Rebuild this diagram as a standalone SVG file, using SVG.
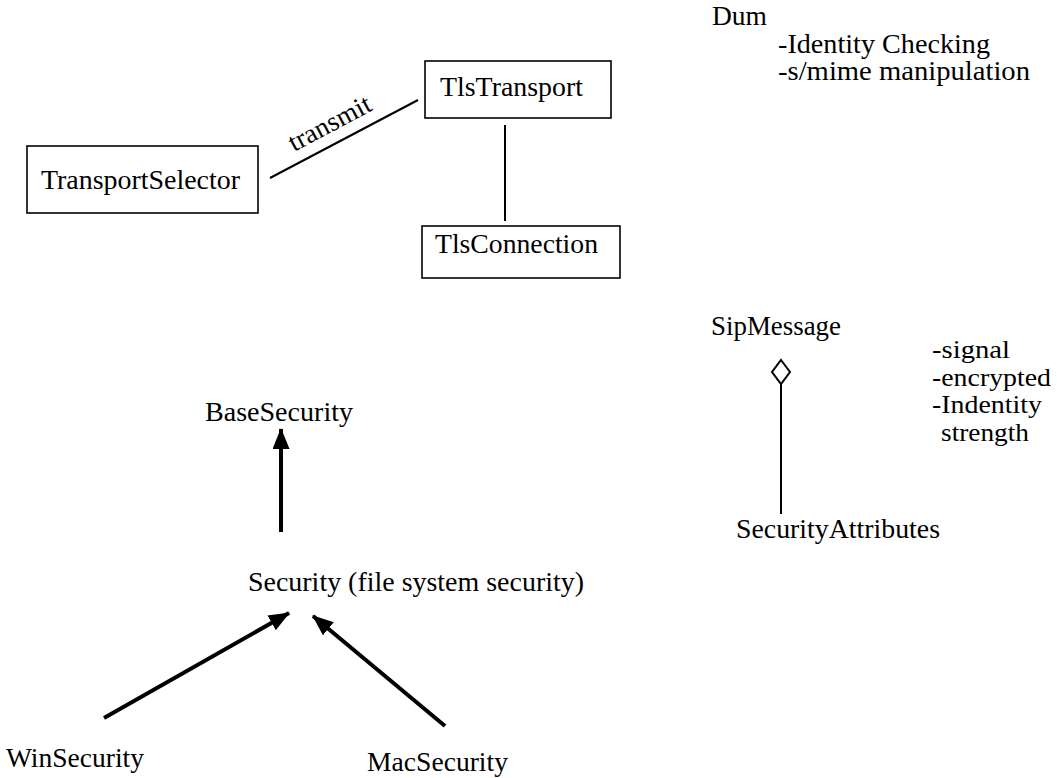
<svg xmlns="http://www.w3.org/2000/svg" width="1057" height="778" viewBox="0 0 1057 778">
<style>
.box { fill: #fff; stroke: #000; stroke-width: 1.6; }
.thin { stroke: #000; stroke-width: 2; fill: none; }
.thick { stroke: #000; stroke-width: 4; fill: none; }
</style>
<defs>
<marker id="tri" markerUnits="userSpaceOnUse" markerWidth="22" markerHeight="18" refX="20" refY="8.5" orient="auto">
<path d="M0,0 L21,8.5 L0,17 Z" fill="#000"/>
</marker>
</defs>
<rect width="1057" height="778" fill="#fff"/>

<g font-family="'Liberation Serif', Tinos, 'Times New Roman', 'DejaVu Serif', serif" font-size="27" fill="#000">
<g id="connectors">
<line class="thin" x1="270" y1="178" x2="418" y2="100"/>
<text transform="translate(294,152) rotate(-28)" textLength="90" lengthAdjust="spacingAndGlyphs">transmit</text>
<line class="thin" x1="505" y1="125" x2="505" y2="221"/>
<line class="thin" x1="781" y1="384" x2="781" y2="514"/>
<path d="M781,360 L790,372 L781,384 L772,372 Z" fill="#fff" stroke="#000" stroke-width="2"/>
<line class="thick" x1="281" y1="532" x2="281" y2="429" marker-end="url(#tri)"/>
<line class="thick" x1="104" y1="718" x2="289" y2="613" marker-end="url(#tri)"/>
<line class="thick" x1="445" y1="726" x2="313" y2="616" marker-end="url(#tri)"/>
</g>

<g id="TransportSelector">
<rect class="box" x="27" y="146" width="231" height="67"/>
<text x="41" y="189" textLength="199" lengthAdjust="spacingAndGlyphs">TransportSelector</text>
</g>
<g id="TlsTransport">
<rect class="box" x="425" y="61" width="186" height="57"/>
<text x="440" y="96" textLength="143" lengthAdjust="spacingAndGlyphs">TlsTransport</text>
</g>
<g id="TlsConnection">
<rect class="box" x="422" y="226" width="198" height="52"/>
<text x="435" y="253" textLength="163" lengthAdjust="spacingAndGlyphs">TlsConnection</text>
</g>

<g id="Dum">
<text x="712" y="25" textLength="55" lengthAdjust="spacingAndGlyphs">Dum</text>
<text x="778" y="53" textLength="212" lengthAdjust="spacingAndGlyphs">-Identity Checking</text>
<text x="778" y="80" textLength="252" lengthAdjust="spacingAndGlyphs">-s/mime manipulation</text>
</g>

<g id="SipMessage">
<text x="711" y="335" textLength="130" lengthAdjust="spacingAndGlyphs">SipMessage</text>
</g>
<g id="SecurityAttributes">
<text x="736" y="538" textLength="204" lengthAdjust="spacingAndGlyphs">SecurityAttributes</text>
</g>
<g id="attributes" font-size="26">
<text x="932" y="358" textLength="78" lengthAdjust="spacingAndGlyphs">-signal</text>
<text x="932" y="386" textLength="119" lengthAdjust="spacingAndGlyphs">-encrypted</text>
<text x="932" y="413" textLength="110" lengthAdjust="spacingAndGlyphs">-Indentity</text>
<text x="941" y="441" textLength="88" lengthAdjust="spacingAndGlyphs">strength</text>
</g>

<g id="BaseSecurity">
<text x="205" y="421" textLength="148" lengthAdjust="spacingAndGlyphs">BaseSecurity</text>
</g>
<g id="Security">
<text x="248" y="591" textLength="336" lengthAdjust="spacingAndGlyphs">Security (file system security)</text>
</g>
<g id="WinSecurity">
<text x="6" y="767" textLength="138" lengthAdjust="spacingAndGlyphs">WinSecurity</text>
</g>
<g id="MacSecurity">
<text x="367" y="771" textLength="141" lengthAdjust="spacingAndGlyphs">MacSecurity</text>
</g>
</g>
</svg>
